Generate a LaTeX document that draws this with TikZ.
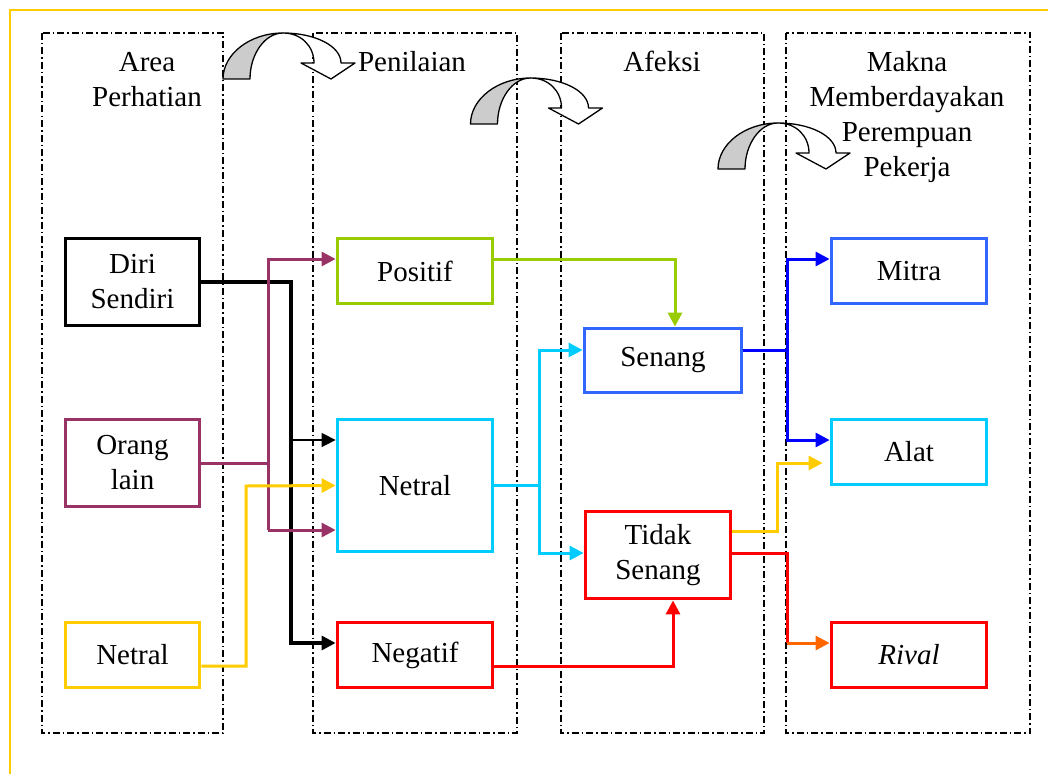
\documentclass[tikz,border=0pt]{standalone}
\usepackage{fontspec}
\setmainfont{Liberation Serif}
\usetikzlibrary{arrows.meta}
\definecolor{ungu}{HTML}{993366}
\definecolor{kuning}{HTML}{FFCC00}
\definecolor{hijau}{HTML}{99CC00}
\definecolor{birumuda}{HTML}{00CCFF}
\definecolor{biru}{HTML}{3366FF}
\definecolor{birutua}{HTML}{0000FF}
\definecolor{merah}{HTML}{FF0000}
\definecolor{oranye}{HTML}{FF6600}
\definecolor{abu}{HTML}{CCCCCC}
\newcommand{\ukuran}{\fontsize{29}{35}\selectfont}

\begin{document}
\begin{tikzpicture}[x=1pt,y=-1pt,
    kotak/.style={draw=#1, line width=3.8pt, fill=white, inner sep=0pt, align=center, font=\ukuran},
    kotak/.default=black,
    judul/.style={inner sep=0pt, align=center, font=\ukuran},
    kolom/.style={line width=1.3pt, dash pattern=on 7pt off 3pt on 1.5pt off 3pt},
    garis/.style={draw=#1, line width=3pt},
    panah/.style={garis=#1, -{Triangle[length=14pt,width=14pt]}},
    lengkung/.style={line width=1.3pt, line join=round}]
  \useasboundingbox (0,0) rectangle (1048,773);
  \draw[kuning, line width=1.5pt] (10,10) rectangle (1070,800);

  \foreach \xa/\xb in {42/223, 313/517, 561/764, 786/1030}
    \draw[kolom] (\xa,33) rectangle (\xb,733);

  \foreach \i in {0,1,2}{
    \begin{scope}[shift={(223+247.5*\i,79+45*\i)}]
      \filldraw[lengkung, fill=abu] (0,0) .. controls (0,-25) and (27,-46) .. (60,-46)
        .. controls (42,-46) and (27,-25) .. (27,0) -- cycle;
      \filldraw[lengkung, fill=white] (60,-46) .. controls (92,-46) and (118,-33) .. (118,-16)
        -- (132,-16) -- (108,0) -- (78,-16) -- (91,-16)
        .. controls (91,-33) and (78,-46) .. (60,-46) -- cycle;
    \end{scope}
  }

  \node[judul] (hArea) at (147,80) {Area\\Perhatian};
  \node[judul, anchor=base] (hNilai) at (412,72) {Penilaian};
  \node[judul, anchor=base] (hAfeksi) at (662,72) {Afeksi};
  \node[judul] (hMakna) at (907,117) {Makna\\Memberdayakan\\Perempuan\\Pekerja};

  \node[kotak, minimum width=134pt, minimum height=87pt] (diri) at (132.5,282) {Diri\\Sendiri};
  \node[kotak=ungu, minimum width=134pt, minimum height=87pt] (orang) at (132.5,463) {Orang\\lain};
  \node[kotak=kuning, minimum width=134pt, minimum height=65pt] (netralA) at (132.5,655) {Netral};

  \node[kotak=hijau, minimum width=155pt, minimum height=65pt] (positif) at (415,271) {Positif};
  \node[kotak=birumuda, minimum width=155pt, minimum height=132pt] (netralB) at (415,485.5) {Netral};
  \node[kotak=merah, minimum width=155pt, minimum height=65pt] (negatif) at (415,655) {Negatif};

  \node[kotak=biru, minimum width=157pt, minimum height=64pt] (senang) at (663,360.5) {Senang};
  \node[kotak=merah, minimum width=145pt, minimum height=87pt] (tidak) at (658,555) {Tidak\\Senang};

  \node[kotak=biru, minimum width=155pt, minimum height=65pt] (mitra) at (909,271) {Mitra};
  \node[kotak=birumuda, minimum width=155pt, minimum height=65pt] (alat) at (909,452) {Alat};
  \node[kotak=merah, minimum width=155pt, minimum height=65pt] (rival) at (909,655) {\textit{Rival}};

  \draw[panah=black, line width=3.2pt] (diri.east) -| (291,630) |- ([yshift=12pt]negatif.west);
  \draw[panah=black, line width=1.6pt] (291,440) -- ([yshift=45.5pt]netralB.west);

  \draw[garis=ungu] (orang.east) -- (268,463);
  \draw[panah=ungu] (268,530) -- (268,259) -- ([yshift=12pt]positif.west);
  \draw[panah=ungu] (268,530) -- ([yshift=-44.5pt]netralB.west);

  \draw[panah=kuning] ([yshift=-11pt]netralA.east) -| (246,486) -- (netralB.west);

  \draw[panah=hijau] ([yshift=12pt]positif.east) -| ([xshift=12pt]senang.north);

  \draw[panah=birumuda] (netralB.east) -| (539,350) -- ([yshift=10.5pt]senang.west);
  \draw[panah=birumuda] (539,480) |- ([yshift=2pt]tidak.west);

  \draw[panah=merah] ([yshift=-11pt]negatif.east) -| ([xshift=15pt]tidak.south);

  \draw[panah=birutua] ([yshift=10.5pt]senang.east) -| (787,259) -- ([yshift=12pt]mitra.west);
  \draw[panah=birutua] (787,350) |- ([yshift=12pt]alat.west);

  \draw[panah=kuning] ([yshift=24pt]tidak.east) -| (777,463) -- ([xshift=-7pt,yshift=-11pt]alat.west);

  \draw[garis=merah] ([yshift=2pt]tidak.east) -| (787,643);
  \draw[panah=oranye] (787,643) -- ([yshift=12pt]rival.west);
\end{tikzpicture}
\end{document}
